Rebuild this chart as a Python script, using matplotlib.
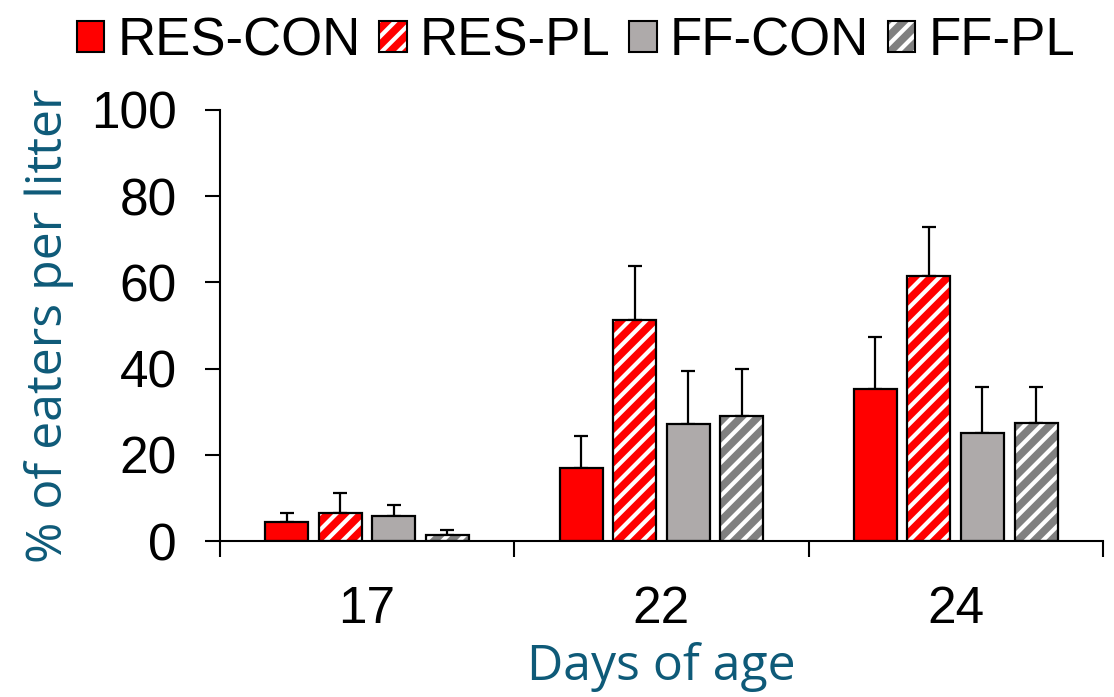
import matplotlib.pyplot as plt
from matplotlib.patches import Patch
from matplotlib.legend_handler import HandlerTuple
from matplotlib.ticker import FixedLocator
import numpy as np

days = ["17", "22", "24"]
groups = ["RES-CON", "RES-PL", "FF-CON", "FF-PL"]
means = {
    "RES-CON": [4.4, 17.0, 35.3],
    "RES-PL": [6.5, 51.3, 61.6],
    "FF-CON": [5.8, 27.1, 25.1],
    "FF-PL": [1.4, 29.0, 27.4],
}
errs = {
    "RES-CON": [2.1, 7.4, 12.1],
    "RES-PL": [4.6, 12.5, 11.2],
    "FF-CON": [2.6, 12.3, 10.7],
    "FF-PL": [1.2, 10.9, 8.4],
}
colors = {"RES-CON": "#FF0000", "RES-PL": "#FF0000", "FF-CON": "#AEAAAA", "FF-PL": "#808080"}
hatched = {"RES-CON": False, "RES-PL": True, "FF-CON": False, "FF-PL": True}

plt.rcParams["font.family"] = ["Liberation Sans", "DejaVu Sans"]
plt.rcParams["hatch.linewidth"] = 3.0
teal = "#0E5A78"

fig = plt.figure(figsize=(11.14, 6.97), dpi=100)
ax = fig.add_axes([0.1975, 0.2238, 0.7925, 0.6184])

x = np.arange(len(days))
width = 0.146
step = 0.182
handles = []
for i, g in enumerate(groups):
    pos = x + (i - 1.5) * step
    if hatched[g]:
        ax.bar(pos, means[g], width, color=colors[g], edgecolor="white",
               hatch="//", linewidth=0, zorder=2)
        h1 = Patch(facecolor=colors[g], edgecolor="white", hatch="//", linewidth=0)
    else:
        ax.bar(pos, means[g], width, color=colors[g], linewidth=0, zorder=2)
        h1 = Patch(facecolor=colors[g], linewidth=0)
    ax.bar(pos, means[g], width, fill=False, edgecolor="black", linewidth=1.6, zorder=3)
    h2 = Patch(fill=False, edgecolor="black", linewidth=1.5)
    ax.errorbar(pos, means[g], yerr=[np.zeros(len(days)), errs[g]], fmt="none",
                ecolor="black", elinewidth=1.6, capsize=5, capthick=1.6, zorder=1)
    handles.append((h1, h2))

ax.set_xlim(-0.5, 2.5)
ax.set_ylim(0, 100)
ax.set_yticks([0, 20, 40, 60, 80, 100])
ax.set_xticks(x)
ax.set_xticklabels(days)
ax.xaxis.set_minor_locator(FixedLocator([-0.5, 0.5, 1.5, 2.5]))
ax.tick_params(axis="x", which="major", length=0, pad=32, labelsize=37)
ax.tick_params(axis="x", which="minor", length=11.5, width=1.5, direction="out")
ax.tick_params(axis="y", length=11, width=1.5, pad=20, labelsize=37)
for s in ["top", "right"]:
    ax.spines[s].set_visible(False)
ax.spines["left"].set_linewidth(1.5)
ax.spines["bottom"].set_linewidth(1.5)

ax.set_ylabel("% of eaters per litter", fontsize=36, color=teal,
              family=["Open Sans", "DejaVu Sans"])
ax.yaxis.set_label_coords(-0.165, 0.5)
ax.set_xlabel("Days of age", fontsize=36, color=teal,
              family=["Open Sans", "DejaVu Sans"])
ax.xaxis.set_label_coords(0.5, -0.235)

fig.legend(handles, groups, loc="upper center", bbox_to_anchor=(0.517, 1.045),
           ncol=4, frameon=False, fontsize=38, handlelength=0.52, handleheight=0.55,
           handletextpad=0.25, columnspacing=0.35,
           handler_map={tuple: HandlerTuple(ndivide=1)})

fig.savefig("out.png", dpi=100)
